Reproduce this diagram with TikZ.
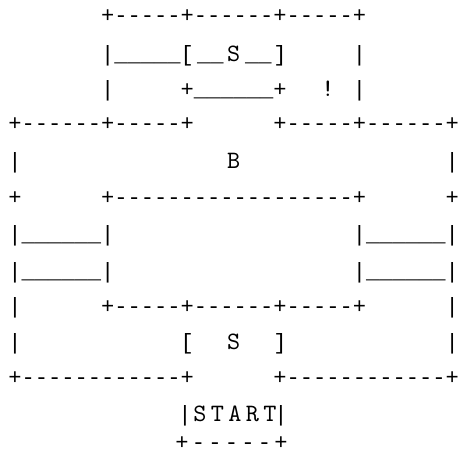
\documentclass[tikz,border=0pt]{standalone}
\usepackage{fontspec}
\setmonofont{Liberation Mono}
\newfontfamily\lmt{lmmono10-regular.otf}
\tikzset{
  ascii/.style={inner sep=0pt, outer sep=0pt, font=\ttfamily\fontsize{22.08pt}{26pt}\selectfont},
  seg/.style={ascii, anchor=base west},
  mid/.style={ascii, anchor=base},
  letter/.style={inner sep=0pt, outer sep=0pt, anchor=base, font=\lmt\fontsize{25pt}{29pt}\selectfont},
  wideA/.style={inner sep=0pt, outer sep=0pt, anchor=base west, font=\lmt\fontsize{25pt}{29pt}\selectfont\addfontfeature{LetterSpace=17.5}},
  wideB/.style={seg, font=\ttfamily\fontsize{22.08pt}{26pt}\selectfont\addfontfeature{LetterSpace=14.7}},
}
\begin{document}
\begin{tikzpicture}[x=1pt,y=-1pt]
\useasboundingbox[fill=white] (0,0) rectangle (460,459);
% row 1
\node[seg] (r1) at (101.125,22.5) {+-----+------+-----+};
% row 2
\node[seg] (r2) at (101.125,61.5) {|\_\_\_\_\_[};
\node[seg] (r2u1) at (197,61.5) {\_\_};
\node[letter] (s1) at (233.625,61.5) {S};
\node[seg] (r2u2) at (245,61.5) {\_\_};
\node[seg] (r2b) at (273.375,61.5) {]};
\node[seg] (r2r) at (352.875,61.5) {|};
% row 3
\node[seg] (r3l) at (101.125,96.5) {|};
\node[seg] (r3m) at (180.625,96.5) {+\_\_\_\_\_\_+};
\node[letter] (r3x) at (328,96.5) {!};
\node[seg] (r3r) at (352.875,96.5) {|};
% row 4
\node[seg] (r4l) at (8.375,130.5) {+------+-----+};
\node[seg] (r4r) at (273.375,130.5) {+-----+------+};
% row 5
\node[seg] (r5l) at (8.375,168.5) {|};
\node[letter] (b) at (233.625,168.5) {B};
\node[seg] (r5r) at (445.625,168.5) {|};
% row 6
\node[seg] (r6l) at (8.375,204.5) {+};
\node[seg] (r6m) at (101.125,204.5) {+------------------+};
\node[seg] (r6r) at (445.625,204.5) {+};
% row 7
\node[seg] (r7l) at (8.375,241.5) {|\_\_\_\_\_\_|};
\node[seg] (r7r) at (352.875,241.5) {|\_\_\_\_\_\_|};
% row 8
\node[seg] (r8l) at (8.375,278.5) {|\_\_\_\_\_\_|};
\node[seg] (r8r) at (352.875,278.5) {|\_\_\_\_\_\_|};
% row 9
\node[seg] (r9l) at (8.375,313.5) {|};
\node[seg] (r9m) at (101.125,313.5) {+-----+------+-----+};
\node[seg] (r9r) at (445.625,313.5) {|};
% row 10
\node[seg] (r10l) at (8.375,349.5) {|};
\node[seg] (r10a) at (180.625,349.5) {[};
\node[letter] (s2) at (233.625,349.5) {S};
\node[seg] (r10b) at (273.375,349.5) {]};
\node[seg] (r10r) at (445.625,349.5) {|};
% row 11
\node[seg] (r11l) at (8.375,384.5) {+------------+};
\node[seg] (r11r) at (273.375,384.5) {+------------+};
% row 12
\node[mid] (r12l) at (185,421.5) {|};
\node[wideA] (start) at (193.4,421.5) {START};
\node[mid] (r12r) at (281,421.5) {|};
% row 13
\node[wideB] (r13) at (175.4,449.5) {+-----+};
\end{tikzpicture}
\end{document}
